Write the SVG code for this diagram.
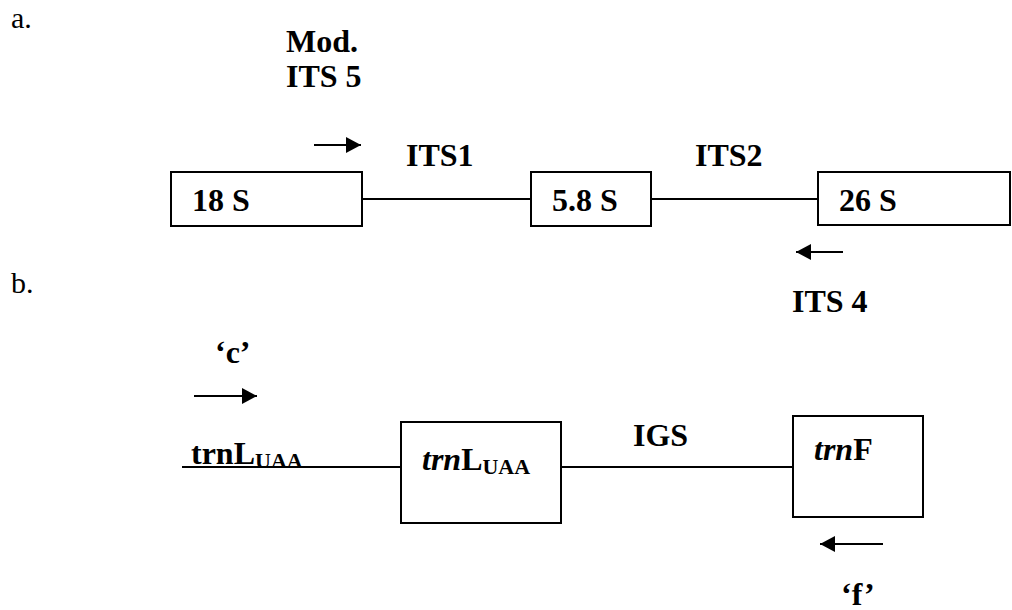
<svg xmlns="http://www.w3.org/2000/svg" width="1012" height="610" viewBox="0 0 1012 610">
<style>
text{font-family:"Liberation Serif","Times New Roman",serif;fill:#000}
.b{font-weight:bold;font-size:32px}
.r{font-size:30px}
.box{fill:#fff;stroke:#000;stroke-width:2}
.ln{stroke:#000;stroke-width:2;fill:none}
.sub{font-size:22px}
</style>
<defs>
<marker id="ah" markerWidth="16" markerHeight="16" refX="15" refY="8" orient="auto" markerUnits="userSpaceOnUse">
<path d="M0,0 L15,8 L0,16 Z" fill="#000"/>
</marker>
</defs>
<text class="r" x="11" y="28">a.</text>
<text class="r" x="11" y="293">b.</text>
<g id="connectors">
<line class="ln" x1="362" y1="199" x2="531" y2="199"/>
<line class="ln" x1="651" y1="199" x2="818" y2="199"/>
<line class="ln" x1="182" y1="467" x2="401" y2="467"/>
<line class="ln" x1="561" y1="467" x2="793" y2="467"/>
<line class="ln" x1="314" y1="145" x2="361" y2="145" marker-end="url(#ah)"/>
<line class="ln" x1="843" y1="252" x2="796" y2="252" marker-end="url(#ah)"/>
<line class="ln" x1="194" y1="396" x2="257" y2="396" marker-end="url(#ah)"/>
<line class="ln" x1="883" y1="544" x2="820" y2="544" marker-end="url(#ah)"/>
</g>
<g id="primer-its5"><text class="b" x="286" y="52">Mod.</text><text class="b" x="286" y="87">ITS 5</text></g>
<g id="label-its1"><text class="b" x="406" y="166">ITS1</text></g>
<g id="label-its2"><text class="b" x="695" y="166">ITS2</text></g>
<g id="primer-its4"><text class="b" x="792" y="312">ITS 4</text></g>
<g id="n18s"><rect class="box" x="171" y="172" width="191" height="54"/><text class="b" x="192" y="211">18 S</text></g>
<g id="n58s"><rect class="box" x="531" y="172" width="120" height="54"/><text class="b" x="552" y="211">5.8 S</text></g>
<g id="n26s"><rect class="box" x="818" y="172" width="192" height="53"/><text class="b" x="839" y="211">26 S</text></g>
<g id="primer-c"><text class="b" x="215" y="363">‘c’</text></g>
<g id="label-trnl-left"><text class="b" x="191" y="464">trnL<tspan class="sub" dy="4">UAA</tspan></text></g>
<g id="n-trnl"><rect class="box" x="401" y="422" width="160" height="101"/><text class="b" x="422" y="470"><tspan font-style="italic">trn</tspan>L<tspan class="sub" dy="4">UAA</tspan></text></g>
<g id="label-igs"><text class="b" x="633" y="446">IGS</text></g>
<g id="n-trnf"><rect class="box" x="793" y="416" width="130" height="101"/><text class="b" x="814" y="460"><tspan font-style="italic">trn</tspan>F</text></g>
<g id="primer-f"><text class="b" x="841" y="605">‘f’</text></g>
</svg>
